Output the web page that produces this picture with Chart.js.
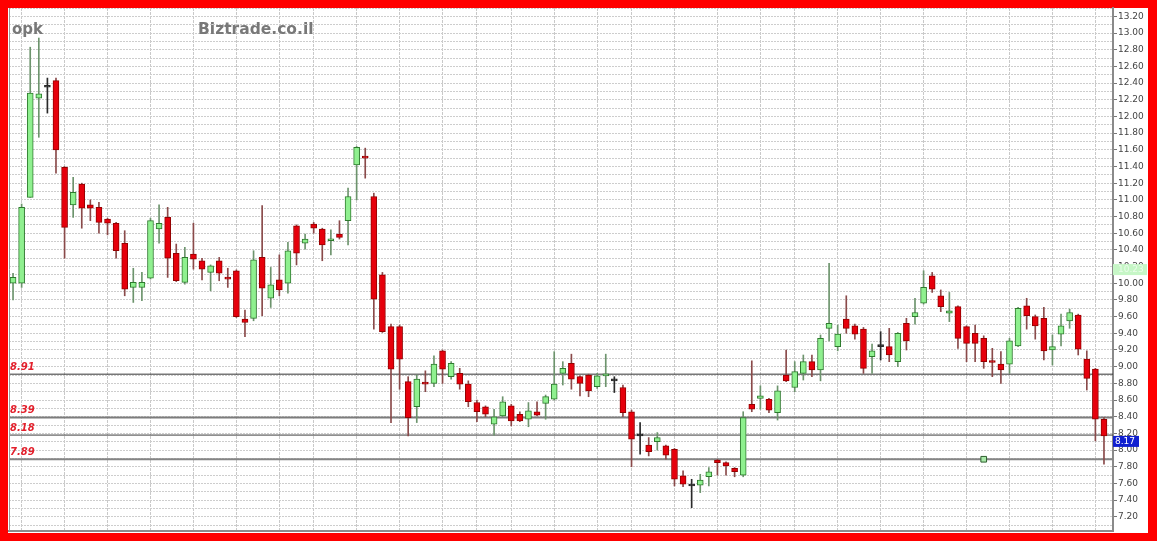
<!DOCTYPE html>
<html>
<head>
<meta charset="utf-8">
<script src="https://cdn.jsdelivr.net/npm/chart.js@4.4.1/dist/chart.umd.min.js"></script>
<style>
  html, body { margin: 0; padding: 0; background: #ff0000; }
  canvas { display: block; }
</style>
</head>
<body>
<canvas id="chart" width="1157" height="541"></canvas>
<script>
// OPK daily candles (oldest first)
const symbol = 'opk';
const siteName = 'Biztrade.co.il';

const opens = [
  10.00, 10.00, 11.03, 12.22, 12.35, 12.43, 11.39, 10.94, 11.19, 10.94,
  10.91, 10.77, 10.72, 10.48, 9.95, 9.95, 10.06, 10.65, 10.79, 10.36,
  10.01, 10.35, 10.27, 10.13, 10.27, 10.07, 10.15, 9.57, 9.58, 10.31,
  9.82, 10.04, 10.00, 10.69, 10.48, 10.71, 10.65, 10.51, 10.59, 10.75,
  11.42, 11.52, 11.04, 10.10, 9.48, 9.48, 8.82, 8.52, 8.81, 8.80,
  9.19, 8.88, 8.92, 8.79, 8.57, 8.52, 8.31, 8.41, 8.53, 8.43,
  8.37, 8.46, 8.56, 8.61, 8.92, 9.04, 8.88, 8.90, 8.76, 8.89,
  8.83, 8.75, 8.46, 8.17, 8.06, 8.10, 8.05, 8.01, 7.69, 7.57,
  7.58, 7.68, 7.88, 7.85, 7.78, 7.70, 8.55, 8.62, 8.61, 8.45,
  8.90, 8.75, 8.92, 9.06, 8.96, 9.46, 9.24, 9.57, 9.49, 9.45,
  9.12, 9.24, 9.24, 9.06, 9.52, 9.60, 9.76, 10.09, 9.85, 9.64,
  9.72, 9.48, 9.40, 9.34, 9.07, 9.03, 9.03, 9.25, 9.73, 9.60,
  9.58, 9.20, 9.39, 9.55, 9.62, 9.09, 8.97, 8.37
];
const highs = [
  10.12, 10.95, 12.83, 12.94, 12.46, 12.46, 11.40, 11.27, 11.20, 11.00,
  10.97, 10.78, 10.73, 10.63, 10.18, 10.13, 10.78, 10.94, 10.91, 10.47,
  10.43, 10.72, 10.30, 10.22, 10.31, 10.18, 10.16, 9.68, 10.39, 10.93,
  10.19, 10.34, 10.49, 10.70, 10.59, 10.73, 10.66, 10.64, 10.75, 11.14,
  11.64, 11.62, 11.08, 10.13, 9.51, 9.50, 8.88, 8.90, 8.95, 9.13,
  9.20, 9.06, 8.98, 8.83, 8.60, 8.53, 8.49, 8.64, 8.55, 8.46,
  8.57, 8.58, 8.66, 9.18, 9.06, 9.15, 8.89, 8.91, 8.92, 9.15,
  8.88, 8.78, 8.48, 8.33, 8.15, 8.21, 8.06, 8.02, 7.75, 7.65,
  7.71, 7.79, 7.89, 7.86, 7.79, 8.46, 9.07, 8.77, 8.62, 8.77,
  9.20, 9.06, 9.14, 9.14, 9.38, 10.24, 9.50, 9.85, 9.51, 9.47,
  9.27, 9.42, 9.46, 9.41, 9.58, 9.82, 10.15, 10.13, 9.92, 9.89,
  9.73, 9.49, 9.50, 9.37, 9.22, 9.18, 9.34, 9.71, 9.82, 9.62,
  9.71, 9.38, 9.63, 9.69, 9.63, 9.19, 8.98, 8.39
];
const lows = [
  9.80, 9.95, 11.03, 11.75, 12.04, 11.32, 10.30, 10.79, 10.66, 10.75,
  10.60, 10.58, 10.30, 9.85, 9.77, 9.79, 10.05, 10.48, 10.07, 10.02,
  9.99, 10.17, 10.04, 9.91, 10.03, 9.95, 9.59, 9.36, 9.55, 9.61,
  9.71, 9.85, 9.88, 10.22, 10.41, 10.60, 10.27, 10.34, 10.53, 10.46,
  11.00, 11.26, 9.45, 9.41, 8.33, 8.73, 8.17, 8.33, 8.70, 8.76,
  8.80, 8.85, 8.73, 8.52, 8.34, 8.40, 8.18, 8.40, 8.29, 8.34,
  8.28, 8.41, 8.37, 8.60, 8.78, 8.73, 8.65, 8.64, 8.74, 8.76,
  8.69, 8.40, 7.80, 7.95, 7.93, 8.00, 7.89, 7.57, 7.56, 7.31,
  7.49, 7.57, 7.70, 7.70, 7.68, 7.68, 8.46, 8.49, 8.45, 8.36,
  8.82, 8.70, 8.84, 8.88, 8.83, 9.31, 9.19, 9.40, 9.33, 8.92,
  8.92, 9.08, 9.06, 9.00, 9.20, 9.51, 9.75, 9.89, 9.66, 9.54,
  9.22, 9.06, 9.06, 8.98, 8.88, 8.80, 8.92, 9.24, 9.45, 9.33,
  9.08, 9.02, 9.25, 9.46, 9.14, 8.72, 8.11, 7.83
];
const closes = [
  10.07, 10.91, 12.28, 12.27, 12.35, 11.60, 10.67, 11.09, 10.90, 10.90,
  10.73, 10.72, 10.39, 9.93, 10.01, 10.01, 10.75, 10.72, 10.30, 10.03,
  10.31, 10.29, 10.17, 10.21, 10.12, 10.05, 9.60, 9.53, 10.28, 9.94,
  9.98, 9.92, 10.39, 10.36, 10.53, 10.66, 10.46, 10.53, 10.55, 11.04,
  11.63, 11.50, 9.81, 9.42, 8.97, 9.09, 8.39, 8.85, 8.79, 9.03,
  8.97, 9.04, 8.79, 8.58, 8.46, 8.43, 8.40, 8.58, 8.35, 8.35,
  8.47, 8.42, 8.64, 8.79, 8.98, 8.85, 8.80, 8.71, 8.89, 8.91,
  8.83, 8.45, 8.13, 8.17, 7.98, 8.15, 7.94, 7.65, 7.59, 7.57,
  7.64, 7.74, 7.85, 7.81, 7.74, 8.39, 8.49, 8.65, 8.48, 8.71,
  8.83, 8.94, 9.06, 8.96, 9.34, 9.52, 9.39, 9.46, 9.39, 8.98,
  9.19, 9.24, 9.14, 9.40, 9.31, 9.65, 9.95, 9.93, 9.72, 9.67,
  9.34, 9.28, 9.28, 9.06, 9.05, 8.96, 9.31, 9.70, 9.61, 9.49,
  9.19, 9.24, 9.49, 9.65, 9.21, 8.86, 8.37, 8.17
];

// first trading day of each week (candle index) -> vertical grid lines
const weekStarts = [1, 6, 11, 16, 21, 26, 31, 35, 40, 45, 50, 54, 58, 63,
                    68, 72, 77, 82, 87, 91, 96, 101, 106, 111, 116, 121, 126];

// support / resistance levels
const levels = [8.91, 8.39, 8.18, 7.89];
const levelWidths = [1, 2, 1, 2];
const levelColors = ['#333333', '#7c7c7c', '#3c3c3c', '#858585'];

// single signal marker and highlighted price
const signalIndex = 113;
const signalValue = 7.89;
const highlightValue = 10.23;
const lastClose = closes[closes.length - 1];

// price axis range and grid step
const priceMin = 7.03;
const priceMax = 13.3;
const gridStep = 0.1;

const GREEN_FILL = '#8ff08f', GREEN_EDGE = '#2e7a2e', GREEN_WICK = '#6d946d';
const RED_FILL = '#e6000c', RED_EDGE = '#950000', RED_WICK = '#8a4a4a';
const DOJI = '#2a2a2a';

const kind = opens.map((o, i) => closes[i] > o ? 1 : (closes[i] < o ? -1 : 0));

const bodyData = opens.map((o, i) => ({ x: i, y: [o, closes[i]] }));
const wickData = lows.map((l, i) => ({ x: i, y: [l, highs[i]] }));
const xMin = -0.47, xMax = 128.05;

const levelSets = levels.map((v, k) => ({
  type: 'line',
  data: [{ x: xMin, y: v }, { x: xMax, y: v }],
  borderColor: levelColors[k],
  borderWidth: levelWidths[k],
  pointRadius: 0,
  order: 5
}));

const decorations = {
  id: 'decorations',
  beforeDraw(chart) {
    const { ctx, width, height } = chart;
    ctx.save();
    ctx.fillStyle = '#ff0000';
    ctx.fillRect(0, 0, width, height);
    ctx.fillStyle = '#ffffff';
    ctx.fillRect(8, 8, 1140, 525);
    ctx.restore();
  },
  afterDraw(chart) {
    const { ctx, chartArea: a, scales: { y } } = chart;
    ctx.save();
    // left frame line
    ctx.strokeStyle = '#9a9a9a';
    ctx.lineWidth = 1;
    ctx.beginPath();
    ctx.moveTo(a.left + 0.5, a.top);
    ctx.lineTo(a.left + 0.5, a.bottom);
    ctx.stroke();

    // header texts
    ctx.fillStyle = '#787878';
    ctx.textBaseline = 'alphabetic';
    ctx.textAlign = 'left';
    ctx.font = 'bold 15px "DejaVu Sans"';
    ctx.fillText(symbol, 12, 34);
    ctx.font = 'bold 15.5px "DejaVu Sans"';
    ctx.fillText(siteName, 198, 34);

    // level captions
    ctx.font = 'italic bold 10px "DejaVu Sans"';
    ctx.fillStyle = '#e3202c';
    levels.forEach(v => ctx.fillText(v.toFixed(2), 10, y.getPixelForValue(v) - 4.5));

    // highlighted price box
    const hy = y.getPixelForValue(highlightValue);
    ctx.fillStyle = '#c6f6c6';
    ctx.fillRect(a.right, hy, 34, 11);
    ctx.fillStyle = '#eafdea';
    ctx.font = '9px "DejaVu Sans"';
    ctx.textBaseline = 'middle';
    ctx.fillText(highlightValue.toFixed(2), a.right + 5, hy + 5.5);

    // last close box
    const ly = y.getPixelForValue(lastClose);
    ctx.fillStyle = '#1020d0';
    ctx.fillRect(a.right, ly, 26, 11);
    ctx.fillStyle = '#ffffff';
    ctx.fillText(lastClose.toFixed(2), a.right + 2, ly + 5.5);
    ctx.restore();
  }
};

new Chart(document.getElementById('chart'), {
  type: 'bar',
  data: {
    datasets: [
      {
        label: 'body',
        data: bodyData,
        grouped: false,
        barThickness: 6,
        minBarLength: 2,
        borderWidth: 1,
        borderSkipped: false,
        backgroundColor: kind.map(k => k > 0 ? GREEN_FILL : (k < 0 ? RED_FILL : DOJI)),
        borderColor: kind.map(k => k > 0 ? GREEN_EDGE : (k < 0 ? RED_EDGE : DOJI)),
        order: 1
      },
      {
        label: 'wick',
        data: wickData,
        grouped: false,
        barThickness: 1,
        borderWidth: 0,
        backgroundColor: kind.map(k => k > 0 ? GREEN_WICK : (k < 0 ? RED_WICK : DOJI)),
        order: 2
      },
      {
        type: 'line',
        label: 'signal',
        data: [{ x: signalIndex, y: signalValue }],
        showLine: false,
        pointStyle: 'rect',
        pointRadius: 4,
        pointBorderWidth: 1,
        pointBackgroundColor: '#a9e8a9',
        pointBorderColor: '#2f5f2f',
        order: 0
      },
      ...levelSets
    ]
  },
  options: {
    responsive: false,
    animation: false,
    devicePixelRatio: 1,
    layout: { padding: { left: 9, right: 9, top: 8, bottom: 10 } },
    plugins: { legend: { display: false }, tooltip: { enabled: false } },
    scales: {
      x: {
        type: 'linear',
        min: xMin,
        max: xMax,
        offset: false,
        afterBuildTicks: s => { s.ticks = weekStarts.map(v => ({ value: v })); },
        afterFit: s => { s.height = 0; },
        ticks: { display: false, autoSkip: false },
        grid: { offset: false, color: '#c9c9c9', lineWidth: 1, drawTicks: false },
        border: { display: true, color: '#8c8c8c', width: 2, dash: [3, 1] }
      },
      y: {
        position: 'right',
        min: priceMin,
        max: priceMax,
        afterBuildTicks: s => {
          const t = [];
          for (let k = Math.ceil(priceMin / gridStep + 1e-9); k <= Math.round(priceMax / gridStep); k++) {
            t.push({ value: Math.round(k * gridStep * 100) / 100 });
          }
          s.ticks = t;
        },
        afterFit: s => { s.width = 35; },
        ticks: {
          autoSkip: false,
          padding: 1,
          color: '#444444',
          font: { family: 'DejaVu Sans', size: 9 },
          callback: v => (Math.round(v * 10) % 2 === 0 ? Number(v).toFixed(2) : '')
        },
        grid: {
          color: '#cdcdcd',
          lineWidth: 1,
          drawTicks: true,
          tickLength: 4,
          tickWidth: 1,
          tickBorderDash: [],
          tickColor: c => (c.tick && Math.round(c.tick.value * 10) % 2 === 0) ? '#777777' : 'rgba(0,0,0,0)'
        },
        border: { display: true, color: '#8a8a8a', width: 2, dash: [2, 1] }
      }
    }
  },
  plugins: [decorations]
});
</script>
</body>
</html>
